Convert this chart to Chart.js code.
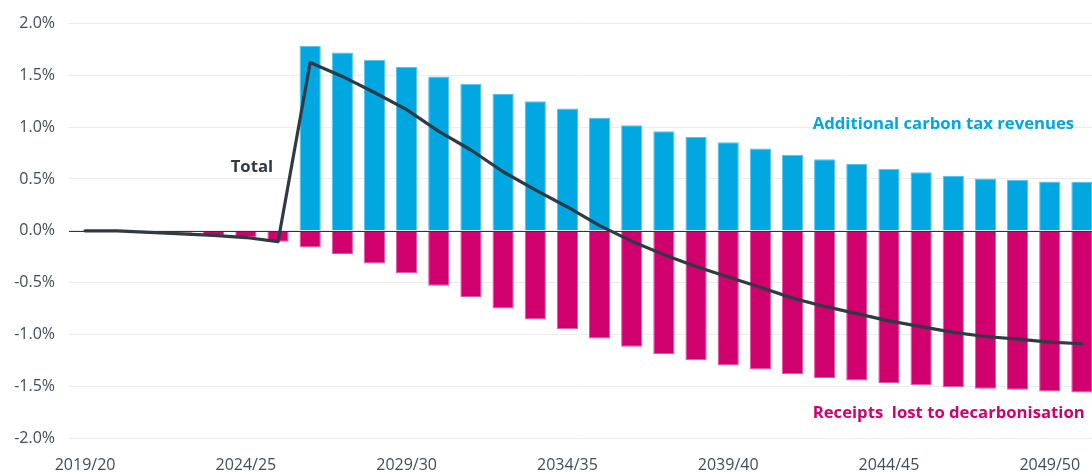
<!DOCTYPE html>
<html lang="en">
<head>
    <meta charset="utf-8" />
    <title>Carbon tax revenues vs receipts lost to decarbonisation</title>
    <script src="https://cdn.jsdelivr.net/npm/chart.js@4/dist/chart.umd.min.js"></script>
    <style>
        html, body { margin: 0; padding: 0; background: #fff; overflow: hidden; }
        #wrap { width: 1098px; height: 474px; }
    </style>
</head>
<body>
    <div id="wrap"><canvas id="chart"></canvas></div>

    <script>
        // fiscal years, 2019/20 .. 2050/51
        var years = [];
        for (var y = 2019; y <= 2050; y++) {
            years.push(y + '/' + String(y + 1).slice(2));
        }

        // % of GDP
        var carbonTax = [0, 0, 0, 0, 0, 0, 0,
            1.785, 1.72, 1.65, 1.58, 1.49, 1.42, 1.32, 1.25, 1.18, 1.09, 1.02, 0.96,
            0.905, 0.855, 0.795, 0.735, 0.69, 0.645, 0.60, 0.565, 0.53, 0.505, 0.49, 0.475, 0.47];

        var receiptsLost = [0, 0, -0.01, -0.02, -0.04, -0.065, -0.105,
            -0.16, -0.225, -0.315, -0.41, -0.53, -0.64, -0.75, -0.855, -0.95, -1.04, -1.12, -1.19,
            -1.25, -1.30, -1.34, -1.385, -1.42, -1.445, -1.47, -1.49, -1.51, -1.525, -1.535, -1.55, -1.56];

        var total = [0, 0, -0.015, -0.03, -0.045, -0.065, -0.105,
            1.625, 1.49, 1.335, 1.17, 0.96, 0.78, 0.57, 0.395, 0.23, 0.05, -0.10, -0.23,
            -0.345, -0.445, -0.545, -0.65, -0.73, -0.80, -0.87, -0.925, -0.98, -1.02, -1.045, -1.075, -1.09];

        var yTicks = [-2.0, -1.5, -1.0, -0.5, 0.0, 0.5, 1.0, 1.5, 2.0];

        var BLUE = '#00a7e1';
        var MAGENTA = '#d0006f';
        var DARK = '#2f3a45';
        var TICK = '#434d58';
        var FONT = "'Open Sans', 'Noto Sans', sans-serif";

        // zero line over the bars, under the total line
        var zeroLine = {
            id: 'zeroLine',
            afterDatasetDraw: function (chart, args) {
                if (args.meta.type !== 'bar') return;
                var ctx = chart.ctx, area = chart.chartArea;
                var y0 = Math.round(chart.scales.y.getPixelForValue(0)) + 0.5;
                ctx.save();
                ctx.strokeStyle = '#333';
                ctx.lineWidth = 1;
                ctx.beginPath();
                ctx.moveTo(area.left, y0);
                ctx.lineTo(area.right, y0);
                ctx.stroke();
                ctx.restore();
            }
        };

        var labels = {
            id: 'labels',
            afterDraw: function (chart) {
                var ctx = chart.ctx, xs = chart.scales.x, ys = chart.scales.y;
                ctx.save();
                ctx.font = 'bold 16.7px ' + FONT;
                ctx.textBaseline = 'middle';
                ctx.textAlign = 'center';
                ctx.fillStyle = DARK;
                ctx.fillText('Total', xs.getPixelForValue(5) + 6, ys.getPixelForValue(0.61));
                ctx.textAlign = 'left';
                ctx.fillStyle = BLUE;
                ctx.fillText('Additional carbon tax revenues', xs.getPixelForValue(23) - 12, ys.getPixelForValue(1.03));
                ctx.fillStyle = MAGENTA;
                ctx.fillText('Receipts  lost to decarbonisation', xs.getPixelForValue(23) - 12, ys.getPixelForValue(-1.76));
                ctx.restore();
            }
        };

        new Chart(document.getElementById('chart'), {
            data: {
                labels: years,
                datasets: [
                    {
                        type: 'line', label: 'Total', data: total, order: 0,
                        borderColor: DARK, borderWidth: 3.2, pointRadius: 0, tension: 0,
                        borderCapStyle: 'round', borderJoinStyle: 'round'
                    },
                    {
                        type: 'bar', label: 'Additional carbon tax revenues', data: carbonTax, order: 1,
                        backgroundColor: BLUE, borderColor: '#55c4ec', borderWidth: 1,
                        barPercentage: 0.66, categoryPercentage: 1, stack: 's'
                    },
                    {
                        type: 'bar', label: 'Receipts lost to decarbonisation', data: receiptsLost, order: 2,
                        backgroundColor: MAGENTA, borderColor: '#e055a0', borderWidth: 1,
                        barPercentage: 0.66, categoryPercentage: 1, stack: 's'
                    }
                ]
            },
            options: {
                responsive: true,
                maintainAspectRatio: false,
                animation: false,
                layout: { padding: { top: 19, right: 0, bottom: 0, left: 0 } },
                plugins: { legend: { display: false }, tooltip: { enabled: false } },
                scales: {
                    x: {
                        stacked: true,
                        grid: { display: false },
                        border: { display: false },
                        afterFit: function (s) { s.height = 36; },
                        ticks: {
                            autoSkip: false, maxRotation: 0, padding: 10,
                            color: TICK, font: { family: FONT, size: 16 },
                            callback: function (v, i) { return i % 5 === 0 ? years[i] : ''; }
                        }
                    },
                    y: {
                        stacked: true,
                        min: -2, max: 2,
                        afterFit: function (s) { s.width = 69; },
                        afterBuildTicks: function (s) { s.ticks = yTicks.map(function (v) { return { value: v }; }); },
                        grid: { color: '#ececec', drawTicks: false },
                        border: { display: false },
                        ticks: {
                            padding: 14, color: TICK, font: { family: FONT, size: 16 },
                            callback: function (v) { return v.toFixed(1) + '%'; }
                        }
                    }
                }
            },
            plugins: [zeroLine, labels]
        });
    </script>
</body>
</html>
